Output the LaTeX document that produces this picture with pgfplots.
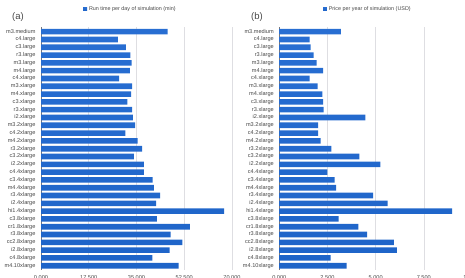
\documentclass[border=0pt]{standalone}
\usepackage{pgfplots}
\pgfplotsset{compat=1.18}
\usepackage{fontspec}
\setmainfont{Liberation Sans}
\definecolor{bartop}{RGB}{40,110,210}
\definecolor{barmid}{RGB}{95,160,238}
\definecolor{barbot}{RGB}{30,100,200}
\definecolor{txt}{RGB}{70,70,70}
\definecolor{gridc}{RGB}{222,222,226}
\definecolor{axc}{RGB}{120,120,125}
\pgfplotsset{
  mybars/.style={
    scale only axis,
    height=243pt,
    xbar, bar width=5.6pt,
    y dir=reverse,
    ymin=-0.6, ymax=30.55,
    ytick={0,...,30},
    yticklabels={m3.medium,c4.large,c3.large,r3.large,m3.large,m4.large,c4.xlarge,m3.xlarge,m4.xlarge,c3.xlarge,r3.xlarge,i2.xlarge,m3.2xlarge,c4.2xlarge,m4.2xlarge,r3.2xlarge,c3.2xlarge,i2.2xlarge,c4.4xlarge,c3.4xlarge,m4.4xlarge,r3.4xlarge,i2.4xlarge,hi1.4xlarge,c3.8xlarge,cr1.8xlarge,r3.8xlarge,cc2.8xlarge,i2.8xlarge,c4.8xlarge,m4.10xlarge},
    yticklabel style={font=\fontsize{5.6}{6}\selectfont, text=txt, xshift=-2pt},
    xticklabel style={font=\fontsize{5.6}{6}\selectfont, text=txt, yshift=-2pt},
    major tick length=0pt,
    xmajorgrids, grid style={gridc, line width=0.6pt},
    axis x line*=bottom,
    x axis line style={draw=none},
    axis y line*=left,
    y axis line style={axc, line width=0.7pt, -},
    legend style={draw=none, fill=none, font=\fontsize{5.4}{6}\selectfont, text=txt, anchor=center, inner sep=0pt},
    legend image code/.code={\fill[barbot] (0pt,-1.8pt) rectangle (3.6pt,1.8pt);},
    clip=false,
  },
  barstyle/.style={draw=none, top color=bartop, middle color=barmid, bottom color=barbot},
}
\begin{document}
\begin{tikzpicture}[x=1pt,y=1pt]
\useasboundingbox (0,0) rectangle (465,277);
\clip (0,0) rectangle (465,277);
\node[font=\fontsize{9.5}{11}\selectfont, text=txt] at (18,259.5) {(a)};
\node[font=\fontsize{9.5}{11}\selectfont, text=txt] at (257,259.5) {(b)};
\begin{axis}[mybars,
  at={(41pt,7pt)}, anchor=south west,
  width=191pt,
  xmin=0, xmax=70000,
  xtick={0,17500,35000,52500,70000},
  xticklabels={0.000,17.500,35.000,52.500,70.000},
  legend style={at={(0.469,1.074)}},
]
\addplot[barstyle] coordinates {
(46400,0) (28200,1) (31100,2) (32800,3) (33200,4) (32600,5) (28600,6) (33400,7)
(33000,8) (31700,9) (33400,10) (33700,11) (34500,12) (30900,13) (35400,14) (37100,15)
(34000,16) (37700,17) (37700,18) (40900,19) (41400,20) (43700,21) (42200,22) (67100,23)
(42500,24) (54600,25) (47500,26) (51800,27) (47100,28) (40800,29) (50400,30)};
\addlegendentry{Run time per day of simulation (min)}
\end{axis}
\begin{axis}[mybars,
  at={(279.3pt,7pt)}, anchor=south west,
  width=192.7pt,
  xmin=0, xmax=10000,
  xtick={0,2500,5000,7500,10000},
  xticklabels={0.000,2.500,5.000,7.500,10.000},
  legend style={at={(0.46,1.074)}},
]
\addplot[barstyle] coordinates {
(3200,0) (1570,1) (1620,2) (1780,3) (1940,4) (2280,5) (1570,6) (1990,7)
(2230,8) (2280,9) (2300,10) (4470,11) (2020,12) (2020,13) (2140,14) (2700,15)
(4150,16) (5250,17) (2490,18) (2870,19) (2950,20) (4870,21) (5620,22) (8970,23)
(3080,24) (4100,25) (4560,26) (5940,27) (6100,28) (2660,29) (3490,30)};
\addlegendentry{Price per year of simulation (USD)}
\end{axis}
\end{tikzpicture}
\end{document}
